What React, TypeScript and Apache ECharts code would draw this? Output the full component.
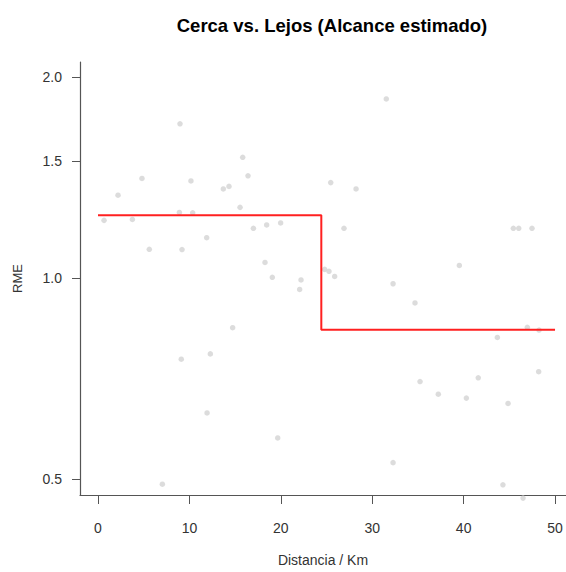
import React, { useEffect, useRef } from "react";
import * as echarts from "echarts";

// Distance (km) and RME values
const distKm: number[] = [
  8.97, 15.83, 4.81, 16.41, 10.17, 13.71, 14.33, 2.19, 15.54, 31.54,
  25.46, 28.23, 0.66, 3.76, 8.9, 10.36, 17.0, 5.61, 9.19, 11.89,
  14.73, 18.45, 19.98, 26.91, 18.27, 19.07, 22.21, 22.06, 24.8, 25.27,
  25.89, 32.28, 34.68, 45.44, 46.03, 47.48, 39.53, 46.97, 48.25, 43.69,
  9.11, 12.29, 11.93, 7.04, 19.66, 35.23, 32.28, 37.23, 40.3, 41.6,
  44.86, 48.21, 44.3, 46.5,
];
const rme: number[] = [
  1.704, 1.518, 1.411, 1.424, 1.399, 1.361, 1.373, 1.332, 1.277, 1.857,
  1.391, 1.361, 1.221, 1.225, 1.255, 1.253, 1.188, 1.105, 1.104, 1.15,
  0.843, 1.202, 1.21, 1.188, 1.056, 1.003, 0.994, 0.962, 1.031, 1.024,
  1.006, 0.981, 0.918, 1.188, 1.188, 1.188, 1.045, 0.844, 0.836, 0.815,
  0.756, 0.77, 0.628, 0.491, 0.576, 0.7, 0.529, 0.67, 0.661, 0.709,
  0.649, 0.724, 0.49, 0.468,
];

// Step fit: breakpoints along distance and level of each segment
const fitBreaks: number[] = [0, 24.43, 50];
const fitLevels: number[] = [1.243, 0.837];

const xTicks: number[] = [0, 10, 20, 30, 40, 50];
const yTicks: number[] = [0.5, 1.0, 1.5, 2.0];

export default function App() {
  const ref = useRef<HTMLDivElement>(null);

  useEffect(() => {
    if (!ref.current) return;
    const chart = echarts.init(ref.current, undefined, { renderer: "svg" });

    const pts = distKm.map((x, i) => [x, Math.log(rme[i])]);
    const fitData: number[][] = [];
    fitLevels.forEach((lv, i) => {
      fitData.push([fitBreaks[i], Math.log(lv)]);
      fitData.push([fitBreaks[i + 1], Math.log(lv)]);
    });

    const axisColor = "#555555";
    const textColor = "#333333";
    const font = "Liberation Sans, Arial, sans-serif";

    chart.setOption({
      animation: false,
      backgroundColor: "#ffffff",
      title: {
        text: "Cerca vs. Lejos (Alcance estimado)",
        left: 327,
        top: 11,
        textAlign: "center",
        textStyle: { fontSize: 18.5, fontWeight: "bold", color: "#000", fontFamily: font },
      },
      grid: { left: 80, right: 0, top: 62, bottom: 72, containLabel: false },
      xAxis: {
        type: "value",
        min: -1.97,
        max: 51.2,
        name: "Distancia / Km",
        nameLocation: "middle",
        nameGap: 58,
        nameTextStyle: { fontSize: 14, color: textColor, fontFamily: font },
        axisLine: { show: true, onZero: false, lineStyle: { color: axisColor, width: 1.2 } },
        axisTick: { show: true, customValues: xTicks, length: 9, lineStyle: { color: axisColor } },
        axisLabel: {
          customValues: xTicks,
          fontSize: 14,
          color: textColor,
          fontFamily: font,
          margin: 26,
        },
        splitLine: { show: false },
      },
      yAxis: {
        type: "value",
        min: -0.7485,
        max: 0.7464,
        name: "RME",
        nameLocation: "middle",
        nameGap: 56,
        nameRotate: 90,
        nameTextStyle: { fontSize: 13, color: textColor, fontFamily: font },
        axisLine: { show: true, onZero: false, lineStyle: { color: axisColor, width: 1.2 } },
        axisTick: {
          show: true,
          customValues: yTicks.map((v) => Math.log(v)),
          length: 8,
          lineStyle: { color: axisColor },
        },
        axisLabel: {
          customValues: yTicks.map((v) => Math.log(v)),
          formatter: (v: number) => Math.exp(v).toFixed(1),
          fontSize: 14,
          color: textColor,
          fontFamily: font,
          margin: 18,
        },
        splitLine: { show: false },
      },
      series: [
        {
          type: "scatter",
          data: pts,
          symbolSize: 5.5,
          clip: false,
          itemStyle: { color: "#d3d3d3" },
          z: 2,
        },
        {
          type: "line",
          data: fitData,
          symbol: "none",
          lineStyle: { color: "#ff2020", width: 2 },
          z: 3,
        },
      ],
    });

    return () => chart.dispose();
  }, []);

  return (
    <div
      ref={ref}
      style={{ position: "absolute", left: 0, top: 0, width: 566, height: 572 }}
    />
  );
}
